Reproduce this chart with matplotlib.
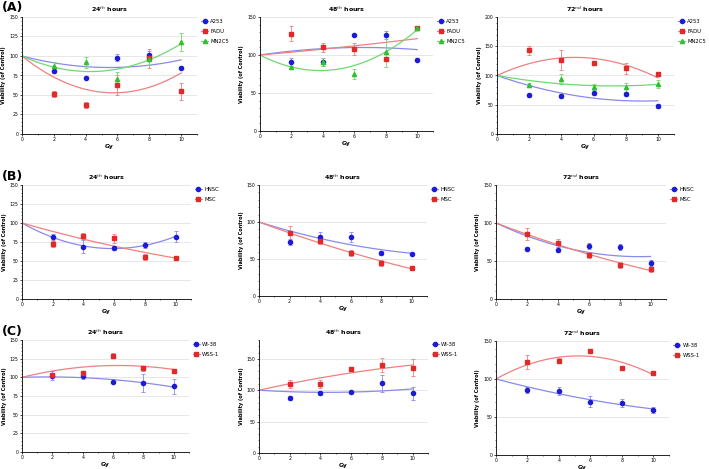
import matplotlib
matplotlib.use('Agg')
import matplotlib.pyplot as plt
from matplotlib.ticker import AutoMinorLocator
from matplotlib.lines import Line2D
import numpy as np

dose = [2, 4, 6, 8, 10]

# (A) cancer lines
a24_a253 = [81, 72, 98, 101, 85]
a24_a253_err = [3, 2, 5, 5, 2]
a24_fadu = [51, 37, 63, 97, 55]
a24_fadu_err = [4, 4, 13, 12, 11]
a24_mn2c5 = [87, 92, 70, 96, 118]
a24_mn2c5_err = [5, 7, 10, 8, 12]

a48_a253 = [90.5, 91, 126, 126, 94]
a48_a253_err = [5, 5, 1, 5, 2]
a48_fadu = [128, 110, 108, 95, 135.5]
a48_fadu_err = [10, 6, 8, 1, 2]
a48_mn2c5 = [84, 91, 75, 104, 135.5]
a48_mn2c5_err = [2, 5, 7, 20, 2]

a72_a253 = [66, 65, 70, 68, 48]
a72_a253_err = [3, 3, 3, 3, 4]
a72_fadu = [143, 126, 122, 112, 102]
a72_fadu_err = [8, 17, 2, 10, 3]
a72_mn2c5 = [84, 94, 81, 80, 86]
a72_mn2c5_err = [4, 9, 5, 8, 7]

# (B) stem cells
b24_hnsc = [81, 69, 67, 71, 82]
b24_hnsc_err = [5, 9, 3, 4, 7]
b24_msc = [73, 83, 80, 55, 54]
b24_msc_err = [5, 4, 6, 4, 2]

b48_hnsc = [73, 80, 80, 58, 57]
b48_hnsc_err = [4, 6, 7, 3, 1]
b48_msc = [85, 74, 58, 45, 38]
b48_msc_err = [9, 4, 4, 4, 3]

b72_hnsc = [66, 65, 70, 68, 47]
b72_hnsc_err = [2, 3, 4, 4, 4]
b72_msc = [85, 74, 58, 45, 39]
b72_msc_err = [8, 5, 4, 4, 3]

# (C) fibroblasts
c24_wi38 = [102, 102, 94, 92, 88]
c24_wi38_err = [6, 4, 1, 12, 10]
c24_wss1 = [103, 106, 129, 112, 109]
c24_wss1_err = [2, 2, 3, 3, 2]

c48_wi38 = [88, 95, 97, 111, 95]
c48_wi38_err = [3, 3, 2, 14, 10]
c48_wss1 = [110, 110, 134, 140, 136]
c48_wss1_err = [7, 6, 3, 11, 14]

c72_wi38 = [86, 84, 70, 68.5, 59.5]
c72_wi38_err = [4, 5, 7, 5, 4]
c72_wss1 = [122, 124, 137, 115, 108]
c72_wss1_err = [9, 3, 2, 1, 2]

titles = [r'24$^{th}$ hours', r'48$^{th}$ hours', r'72$^{nd}$ hours']
row_labels = ['(A)', '(B)', '(C)']

BLUE, RED, GREEN = '#1c1cd8', '#e02a2a', '#30c030'
BLUE_L, RED_L, GREEN_L = '#8a8aec', '#f08080', '#70d870'
styles = {'blue': (BLUE, BLUE_L, 'o'), 'red': (RED, RED_L, 's'), 'green': (GREEN, GREEN_L, '^')}

rows = [
  [ ([('A253', a24_a253, a24_a253_err, 'blue'), ('FADU', a24_fadu, a24_fadu_err, 'red'),
      ('MN2C5', a24_mn2c5, a24_mn2c5_err, 'green')], 150, 25),
    ([('A253', a48_a253, a48_a253_err, 'blue'), ('FADU', a48_fadu, a48_fadu_err, 'red'),
      ('MN2C5', a48_mn2c5, a48_mn2c5_err, 'green')], 150, 50),
    ([('A253', a72_a253, a72_a253_err, 'blue'), ('FADU', a72_fadu, a72_fadu_err, 'red'),
      ('MN2C5', a72_mn2c5, a72_mn2c5_err, 'green')], 200, 50) ],
  [ ([('HNSC', b24_hnsc, b24_hnsc_err, 'blue'), ('MSC', b24_msc, b24_msc_err, 'red')], 150, 25),
    ([('HNSC', b48_hnsc, b48_hnsc_err, 'blue'), ('MSC', b48_msc, b48_msc_err, 'red')], 150, 50),
    ([('HNSC', b72_hnsc, b72_hnsc_err, 'blue'), ('MSC', b72_msc, b72_msc_err, 'red')], 150, 50) ],
  [ ([('WI-38', c24_wi38, c24_wi38_err, 'blue'), ('WSS-1', c24_wss1, c24_wss1_err, 'red')], 150, 25),
    ([('WI-38', c48_wi38, c48_wi38_err, 'blue'), ('WSS-1', c48_wss1, c48_wss1_err, 'red')], 180, 50),
    ([('WI-38', c72_wi38, c72_wi38_err, 'blue'), ('WSS-1', c72_wss1, c72_wss1_err, 'red')], 150, 50) ],
]

# axes boxes in pixels: left, right, top, bottom
boxes = [
  [(22, 197, 17, 134), (260, 433, 17, 131), (497, 674, 17, 134)],
  [(22, 191, 185, 299), (259, 427, 185, 296), (496, 666, 185, 299)],
  [(22, 189, 340, 452), (259, 428, 340, 453), (496, 669, 341, 455)],
]

W, H = 709, 469


def fit_curve(x, y):
  # second order polynomial constrained through (0, 100)
  x = np.asarray(x, float)
  d = np.asarray(y, float) - 100
  A = np.column_stack([x, x**2])
  b, *_ = np.linalg.lstsq(A, d, rcond=None)
  xs = np.linspace(0, 10, 200)
  return xs, 100 + b[0]*xs + b[1]*xs**2


fig = plt.figure(figsize=(W/100, H/100), dpi=100)

for r, row in enumerate(rows):
  for c, (series, ymax, ystep) in enumerate(row):
    l, rt, t, bt = boxes[r][c]
    ax = fig.add_axes([l/W, 1 - bt/H, (rt - l)/W, (bt - t)/H])
    handles = []
    for name, vals, errs, col in series:
      mc, lc, mk = styles[col]
      xs, ys = fit_curve(dose, vals)
      ax.plot(xs, ys, color=lc, lw=0.9, zorder=2)
      ax.errorbar(dose, vals, yerr=errs, fmt=mk, color=mc, ms=3, elinewidth=0.6,
                  capsize=1.5, capthick=0.6, ecolor=lc, zorder=3)
      handles.append(Line2D([0], [0], color=lc, lw=0.8, marker=mk, markersize=3,
                            markerfacecolor=mc, markeredgecolor=mc))
    ax.set_xlim(0, 11)
    ax.set_ylim(0, ymax)
    ax.set_xticks([0, 2, 4, 6, 8, 10])
    ax.set_yticks(np.arange(0, ymax + 1, ystep) if ymax != 180 else [0, 50, 100, 150])
    ax.xaxis.set_minor_locator(AutoMinorLocator(2))
    ax.yaxis.set_minor_locator(AutoMinorLocator(5))
    ax.tick_params(labelsize=3.3, length=1.5, width=0.5, pad=1)
    ax.tick_params(which='minor', length=0.8, width=0.4)
    ax.spines['top'].set_visible(False)
    ax.spines['right'].set_visible(False)
    ax.spines['left'].set_linewidth(0.6)
    ax.spines['bottom'].set_linewidth(0.6)
    ax.grid(axis='y', color='#dddddd', lw=0.5)
    ax.set_axisbelow(True)
    ax.set_title(titles[c], fontsize=4.5, fontweight='bold', pad=4)
    ax.set_xlabel('Gy', fontsize=4.3, fontweight='bold', labelpad=1)
    ax.set_ylabel('Viability (of Control)', fontsize=3.6, fontweight='bold')
    ax.yaxis.set_label_coords(-15.5/(rt - l), 0.5)
    ax.legend(handles, [s[0] for s in series], loc='upper left', bbox_to_anchor=(1.01, 1.0),
              frameon=False, fontsize=3.8, handlelength=1.4, handletextpad=0.4,
              labelspacing=0.9, borderaxespad=0)
  fig.text(2/W, 1 - (boxes[r][0][2] - 9)/H, row_labels[r], fontsize=9, fontweight='bold',
           va='center', ha='left')

fig.savefig('out.png', dpi=100)
